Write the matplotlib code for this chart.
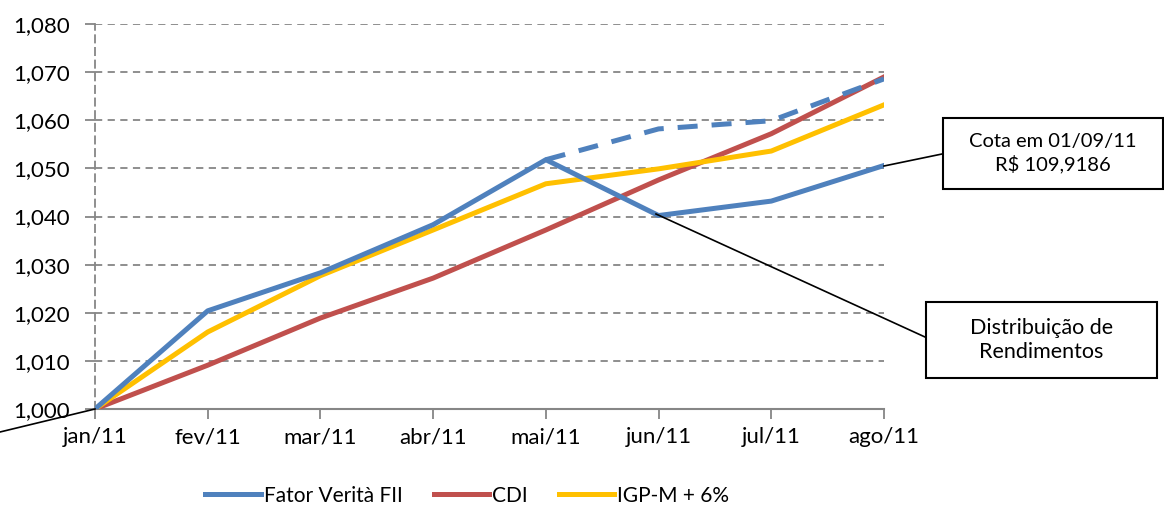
import matplotlib
matplotlib.use("Agg")
import matplotlib.pyplot as plt
from matplotlib.patches import Rectangle
from matplotlib.lines import Line2D
from matplotlib.ticker import MultipleLocator, FuncFormatter

plt.rcParams['font.family'] = ['Lato', 'DejaVu Sans']

months = ["jan/11", "fev/11", "mar/11", "abr/11", "mai/11", "jun/11", "jul/11", "ago/11"]
fator = [1.000, 1.0204, 1.0283, 1.0383, 1.0518, 1.0402, 1.0432, 1.0506]
fator_sem_dist = [1.0518, 1.0582, 1.0599, 1.0686]   # mai..ago, without distribution
cdi = [1.000, 1.0091, 1.0189, 1.0272, 1.0372, 1.0476, 1.0572, 1.0690]
igpm = [1.000, 1.0160, 1.0277, 1.0372, 1.0468, 1.0499, 1.0536, 1.0632]

blue = "#4F81BD"
red = "#C0504D"
yellow = "#FFC000"
grid = "#868686"

W, H = 1164, 508
fig = plt.figure(figsize=(W / 100, H / 100), dpi=100)
ax = fig.add_axes([95 / W, 1 - 409 / H, (884 - 95) / W, (409 - 24) / H])

def px(x, y):
    return x / W, 1 - y / H

x = list(range(len(months)))
ax.plot(x, fator, color=blue, lw=3.6, label="Fator Verità FII", zorder=4)
ax.plot(x[4:], fator_sem_dist, color=blue, lw=3.6, ls=(0, (4, 2.8)), zorder=4)
ax.plot(x, cdi, color=red, lw=3.6, label="CDI", zorder=3)
ax.plot(x, igpm, color=yellow, lw=3.6, label="IGP-M + 6%", zorder=3)

ax.set_xlim(0, len(months) - 1)
ax.set_ylim(1.0, 1.08)
ax.yaxis.set_major_locator(MultipleLocator(0.01))
ax.yaxis.set_major_formatter(FuncFormatter(lambda v, p: f"{v:.3f}".replace(".", ",")))
ax.set_xticks(x)
ax.set_xticklabels(months)

ax.grid(axis="y", color=grid, ls=(0, (4, 3)), lw=1.3)
for s in ["top", "right"]:
    ax.spines[s].set_visible(False)
ax.spines["left"].set_color(grid)
ax.spines["left"].set_linestyle((0, (4, 3)))
ax.spines["left"].set_linewidth(1.3)
ax.spines["bottom"].set_color(grid)
ax.spines["bottom"].set_linewidth(1.5)
ax.tick_params(axis="both", colors=grid, length=7, width=1.3, labelcolor="black", labelsize=16)
ax.tick_params(axis="x", pad=6)
ax.tick_params(axis="y", pad=11)

leg = ax.legend(loc="upper center", bbox_to_anchor=(0.472, -0.15), ncol=3, frameon=False,
                fontsize=15, handlelength=2.65, columnspacing=1.5, handletextpad=0.15)

# annotation lines
for (x0, y0), (x1, y1) in [((95, 409), (0, 432)), ((656, 214), (925, 337)), ((884, 166), (942, 154))]:
    fig.add_artist(Line2D([x0 / W, x1 / W], [1 - y0 / H, 1 - y1 / H], color="black", lw=1.2,
                          transform=fig.transFigure, zorder=5))

# annotation boxes
for (l, t, r, b), txt, fs in [((943, 118, 1163, 189), "Cota em 01/09/11\nR$ 109,9186", 14.5),
                              ((926, 302, 1157, 378), "Distribuição de\nRendimentos", 15.5)]:
    x0, y0 = px(l, b)
    fig.add_artist(Rectangle((x0, y0), (r - l) / W, (b - t) / H, transform=fig.transFigure,
                             facecolor="white", edgecolor="black", lw=1.5, zorder=6))
    cx, cy = px((l + r) / 2, (t + b) / 2)
    fig.text(cx, cy, txt, ha="center", va="center", fontsize=fs, linespacing=1.3, zorder=7)

fig.savefig("out.png", dpi=100)
